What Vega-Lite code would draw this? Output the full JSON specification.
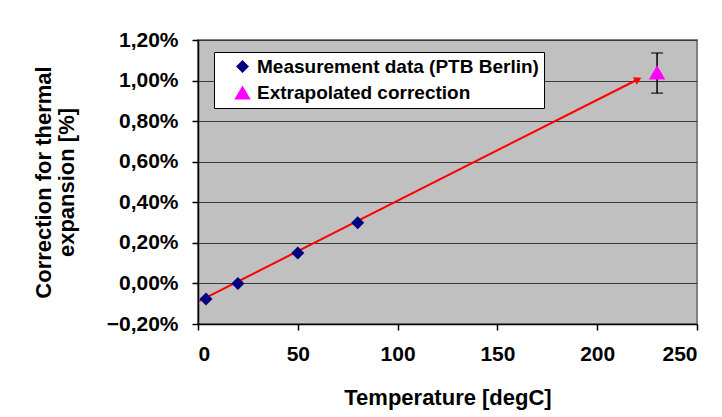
{
  "$schema": "https://vega.github.io/schema/vega-lite/v6.json",
  "width": 499,
  "height": 284,
  "autosize": {"type": "none"},
  "padding": {"left": 198, "top": 40, "right": 25, "bottom": 93},
  "background": "white",
  "config": {
    "font": "Liberation Sans",
    "view": {"fill": "#C0C0C0", "stroke": "#808080", "strokeWidth": 2},
    "axis": {
      "labelFont": "Liberation Sans", "labelFontWeight": "bold", "labelFontSize": 21, "labelColor": "black",
      "titleFont": "Liberation Sans", "titleFontWeight": "bold", "titleFontSize": 22, "titleColor": "black",
      "domainColor": "black", "domainWidth": 1.5, "tickColor": "black", "tickWidth": 1.5, "tickSize": 6
    },
    "legend": {
      "labelFont": "Liberation Sans", "labelFontWeight": "bold", "labelFontSize": 19, "labelColor": "black", "labelLimit": 500
    }
  },
  "datasets": {
    "points": [
      {"T": 4, "corr": -0.077, "series": "Measurement data (PTB Berlin)"},
      {"T": 20, "corr": 0.0, "series": "Measurement data (PTB Berlin)"},
      {"T": 50, "corr": 0.15, "series": "Measurement data (PTB Berlin)"},
      {"T": 80, "corr": 0.299, "series": "Measurement data (PTB Berlin)"},
      {"T": 230, "corr": 1.04, "series": "Extrapolated correction"}
    ],
    "fit": [
      {"T": 0.5, "corr": -0.087},
      {"T": 221, "corr": 1.009}
    ],
    "arrow": [
      {"T": 220.5, "corr": 1.006}
    ],
    "err": [
      {"T": 230, "lo": 0.938, "hi": 1.136}
    ]
  },
  "layer": [
    {
      "data": {"name": "fit"},
      "mark": {"type": "line", "color": "#FF0000", "strokeWidth": 2},
      "encoding": {
        "x": {"field": "T", "type": "quantitative", "scale": {"domain": [0, 250], "nice": false},
              "axis": {"values": [0, 50, 100, 150, 200, 250], "grid": false, "labelPadding": 13, "title": "Temperature [degC]", "titlePadding": 23}},
        "y": {"field": "corr", "type": "quantitative", "scale": {"domain": [-0.2, 1.2], "nice": false, "zero": false},
              "axis": {"values": [-0.2, 0, 0.2, 0.4, 0.6, 0.8, 1.0, 1.2], "grid": true, "gridColor": "#3a3a3a", "gridWidth": 1.2, "gridOpacity": 1,
                       "labelPadding": 14,
                       "labelExpr": "replace(format(datum.value, '.2f'), '.', ',') + '%'",
                       "title": ["Correction for thermal", "expansion [%]"], "titlePadding": 28, "titleLineHeight": 23,
                       "titleAlign": "center", "titleAnchor": "middle"}}
      }
    },
    {
      "data": {"name": "arrow"},
      "mark": {"type": "point", "shape": "triangle-right", "filled": true, "color": "#FF0000", "size": 70, "angle": 333, "opacity": 1},
      "encoding": {
        "x": {"field": "T", "type": "quantitative"},
        "y": {"field": "corr", "type": "quantitative"}
      }
    },
    {
      "data": {"name": "err"},
      "mark": {"type": "rule", "color": "black", "strokeWidth": 1.5},
      "encoding": {
        "x": {"field": "T", "type": "quantitative"},
        "y": {"field": "lo", "type": "quantitative"},
        "y2": {"field": "hi"}
      }
    },
    {
      "data": {"name": "err"},
      "mark": {"type": "tick", "orient": "horizontal", "color": "black", "size": 12, "thickness": 1.5},
      "encoding": {
        "x": {"field": "T", "type": "quantitative"},
        "y": {"field": "lo", "type": "quantitative"}
      }
    },
    {
      "data": {"name": "err"},
      "mark": {"type": "tick", "orient": "horizontal", "color": "black", "size": 12, "thickness": 1.5},
      "encoding": {
        "x": {"field": "T", "type": "quantitative"},
        "y": {"field": "hi", "type": "quantitative"}
      }
    },
    {
      "data": {"name": "points"},
      "mark": {"type": "point", "filled": true, "opacity": 1},
      "encoding": {
        "x": {"field": "T", "type": "quantitative"},
        "y": {"field": "corr", "type": "quantitative"},
        "color": {"field": "series", "type": "nominal",
                  "scale": {"domain": ["Measurement data (PTB Berlin)", "Extrapolated correction"], "range": ["#000080", "#FF00FF"]},
                  "legend": {"title": null, "orient": "none", "legendX": 16, "legendY": 12, "fillColor": "white", "strokeColor": "black",
                             "padding": 5, "symbolOffset": 14, "labelOffset": 5, "rowPadding": 6, "symbolSize": 130, "symbolStrokeWidth": 0}},
        "shape": {"field": "series", "type": "nominal",
                  "scale": {"domain": ["Measurement data (PTB Berlin)", "Extrapolated correction"], "range": ["diamond", "triangle-up"]}},
        "size": {"field": "series", "type": "nominal",
                 "scale": {"domain": ["Measurement data (PTB Berlin)", "Extrapolated correction"], "range": [170, 270]}, "legend": null}
      }
    }
  ]
}
